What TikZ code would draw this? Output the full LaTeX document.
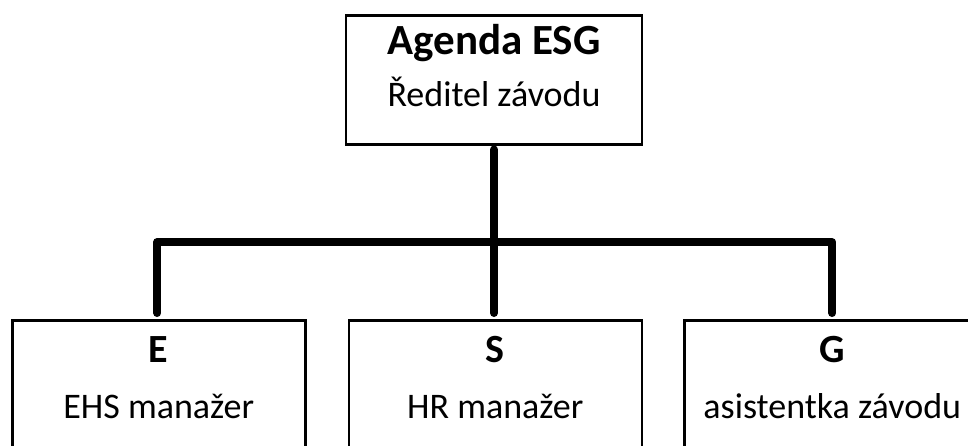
\documentclass[tikz,border=0pt]{standalone}
\usepackage{fontspec}
\setmainfont{Carlito}
\usetikzlibrary{positioning}

\tikzset{
  box/.style={draw, line width=2.5pt, inner sep=0pt, align=center},
  link/.style={line width=8pt, line cap=round, line join=round},
}

\begin{document}
\begin{tikzpicture}[x=1pt,y=-1pt]
    \useasboundingbox (0,0) rectangle (968,445);
    \clip (0,0) rectangle (968,445);

    % draw top box
    \node[box, minimum width=296pt, anchor=north, font=\fontsize{36}{52}\selectfont] (esg) at (494,14)
      {\rule{0pt}{39pt}{\fontsize{43}{52}\selectfont\bfseries Agenda ESG}\\
       Ředitel závodu\rule[-38pt]{0pt}{38pt}};

    % draw bottom boxes
    \foreach \name/\x/\w/\head/\role in {e/11/293/E/EHS manažer, s/347.5/293/S/HR manažer, g/683/296/G/asistentka závodu}
    \node[box, minimum width=\w pt, anchor=north west, font=\fontsize{36}{56}\selectfont] (\name) at (\x,319)
      {\rule{0pt}{42pt}{\fontsize{40}{56}\selectfont\bfseries \head}\\
       \role\rule[-60pt]{0pt}{60pt}};

    % draw connectors
    \coordinate (bus) at (494,242);
    \draw[link, shorten <=4pt, shorten >=6pt] (esg.south) -- (esg.south |- s.north);
    \draw[link, shorten <=6pt, shorten >=6pt] ([xshift=-1.5pt]e.north) |- (bus) -| (g.north);
\end{tikzpicture}
\end{document}
